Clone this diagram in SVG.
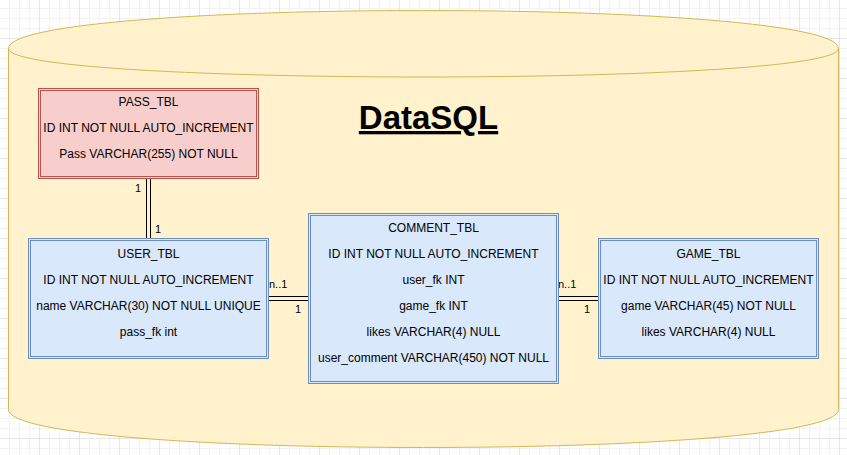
<svg xmlns="http://www.w3.org/2000/svg" width="847" height="455" viewBox="0 0 847 455">
<style>
.t{font-family:"Liberation Sans",Arial,Helvetica,sans-serif;font-size:12px;fill:#000;text-anchor:middle}
.lbl{font-family:"Liberation Sans",Arial,Helvetica,sans-serif;font-size:11px;fill:#000}
.blue{fill:#dae8fc;stroke:#6c8ebf;stroke-width:1}
.blueIn{fill:none;stroke:#6c8ebf;stroke-width:1}
.red{fill:#f8cecc;stroke:#b85450;stroke-width:1}
.redIn{fill:none;stroke:#b85450;stroke-width:1}
.edge{stroke:#000;stroke-width:1;fill:none}
</style>
<defs>
<pattern id="grid" patternUnits="userSpaceOnUse" x="-1" y="-2" width="40" height="40">
<rect width="40" height="40" fill="#ffffff"/>
<path d="M10.5,0V40M20.5,0V40M30.5,0V40M0,10.5H40M0,20.5H40M0,30.5H40" stroke="#f3f3f3" stroke-width="1"/>
<path d="M0.5,0V40M0,0.5H40" stroke="#e6e6e6" stroke-width="1"/>
</pattern>
</defs>
<rect width="847" height="455" fill="url(#grid)"/>
<g id="database">
<path d="M8.5,48.5 C8.5,-2.17 838.5,-2.17 838.5,48.5 L838.5,409.5 C838.5,460.17 8.5,460.17 8.5,409.5 Z" fill="#fff2cc" stroke="#d6b656" stroke-width="1"/>
<path d="M8.5,48.5 C8.5,86.5 838.5,86.5 838.5,48.5" fill="none" stroke="#d6b656" stroke-width="1"/>
<text x="428.5" y="129" font-family="'Liberation Sans',Arial,Helvetica,sans-serif" font-size="33" font-weight="bold" text-anchor="middle" text-decoration="underline" fill="#000">DataSQL</text>
</g>
<g id="connectors">
<path class="edge" d="M146.5,178.5V238.5M150.5,178.5V238.5"/>
<text class="lbl" x="135" y="192">1</text>
<text class="lbl" x="155" y="233">1</text>
<path class="edge" d="M268.5,296.5H308.5M268.5,300.5H308.5"/>
<text class="lbl" x="269" y="288">n..1</text>
<text class="lbl" x="295" y="313">1</text>
<path class="edge" d="M558.5,296.5H598.5M558.5,300.5H598.5"/>
<text class="lbl" x="558" y="288">n..1</text>
<text class="lbl" x="584" y="313">1</text>
</g>
<g id="pass_tbl">
<rect class="red" x="38.5" y="88.5" width="220" height="90"/>
<rect class="redIn" x="40.5" y="90.5" width="216" height="86"/>
<text class="t" x="148.5" y="106">PASS_TBL</text>
<text class="t" x="148.5" y="132">ID INT NOT NULL AUTO_INCREMENT</text>
<text class="t" x="148.5" y="158">Pass VARCHAR(255) NOT NULL</text>
</g>
<g id="user_tbl">
<rect class="blue" x="28.5" y="238.5" width="240" height="120"/>
<rect class="blueIn" x="30.5" y="240.5" width="236" height="116"/>
<text class="t" x="148.5" y="257.6">USER_TBL</text>
<text class="t" x="148.5" y="283.6">ID INT NOT NULL AUTO_INCREMENT</text>
<text class="t" x="148.5" y="309.8">name VARCHAR(30) NOT NULL UNIQUE</text>
<text class="t" x="148.5" y="335.9">pass_fk int</text>
</g>
<g id="comment_tbl">
<rect class="blue" x="308.5" y="213.5" width="250" height="170"/>
<rect class="blueIn" x="310.5" y="215.5" width="246" height="166"/>
<text class="t" x="433.5" y="232">COMMENT_TBL</text>
<text class="t" x="433.5" y="257.8">ID INT NOT NULL AUTO_INCREMENT</text>
<text class="t" x="433.5" y="284">user_fk INT</text>
<text class="t" x="433.5" y="310">game_fk INT</text>
<text class="t" x="433.5" y="336">likes VARCHAR(4) NULL</text>
<text class="t" x="433.5" y="361.7">user_comment VARCHAR(450) NOT NULL</text>
</g>
<g id="game_tbl">
<rect class="blue" x="598.5" y="238.5" width="220" height="120"/>
<rect class="blueIn" x="600.5" y="240.5" width="216" height="116"/>
<text class="t" x="708.5" y="258.2">GAME_TBL</text>
<text class="t" x="708.5" y="283.7">ID INT NOT NULL AUTO_INCREMENT</text>
<text class="t" x="708.5" y="309.7">game VARCHAR(45) NOT NULL</text>
<text class="t" x="708.5" y="336">likes VARCHAR(4) NULL</text>
</g>
</svg>
